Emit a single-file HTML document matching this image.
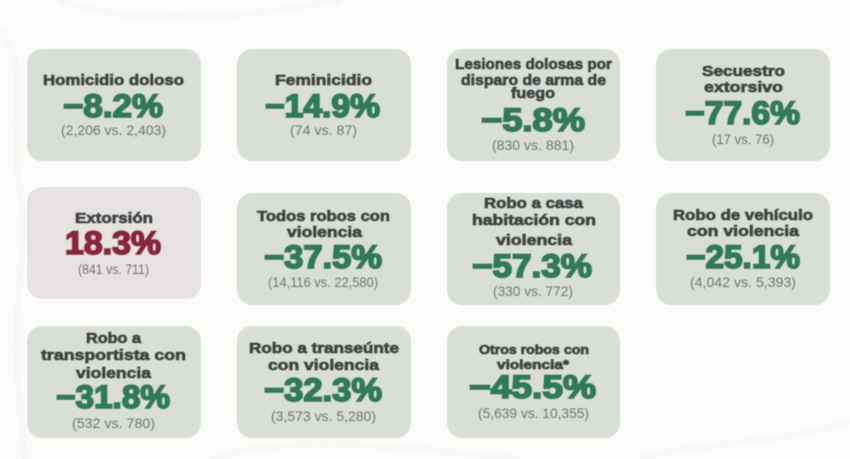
<!DOCTYPE html>
<html lang="es">
<head>
<meta charset="utf-8">
<title>Variación de delitos</title>
<style>
html,body{margin:0;padding:0;width:850px;height:459px;overflow:hidden;background:#fbfcfa;}
svg{display:block;}
text{font-family:"Liberation Sans",sans-serif;}
.t{font-weight:700;font-size:15px;fill:#3f4543;stroke:#3f4543;stroke-width:.95px;}
.v{font-weight:700;font-size:32px;fill:#2f7a5c;stroke:#2f7a5c;stroke-width:2px;}
.r{fill:#8a2140;stroke:#8a2140;}
.s{font-size:13.5px;fill:#727874;stroke:#727874;stroke-width:.15px;}
.c{fill:#d9dfd8;}
.c2{fill:#e6e2e1;}
</style>
</head>
<body>
<svg width="850" height="459" viewBox="0 0 850 459">
<defs><filter id="b" x="-5%" y="-5%" width="110%" height="110%"><feGaussianBlur stdDeviation="0.5"/></filter></defs>
<g fill="none" stroke="#f7f8f5" stroke-width="7">
<path d="M0 30C30 60 10 120 20 190S5 300 25 459"/>
<path d="M210 459C300 430 420 450 520 459"/>
<path d="M640 459C700 440 790 445 850 420"/>
<path d="M60 0C140 30 260 15 340 0"/>
</g>
<g filter="url(#b)">
<g>
<rect class="c" x="27" y="49" width="174" height="112" rx="15"/>
<text class="t" x="43" y="85" textLength="141" lengthAdjust="spacingAndGlyphs">Homicidio doloso</text>
<text class="v" x="63" y="117" textLength="100" lengthAdjust="spacingAndGlyphs">−8.2%</text>
<text class="s" x="61" y="135" textLength="105" lengthAdjust="spacingAndGlyphs">(2,206 vs. 2,403)</text>
</g>
<g>
<rect class="c" x="237" y="49" width="174" height="112" rx="15"/>
<text class="t" x="275" y="85" textLength="97" lengthAdjust="spacingAndGlyphs">Feminicidio</text>
<text class="v" x="265" y="117" textLength="115" lengthAdjust="spacingAndGlyphs">−14.9%</text>
<text class="s" x="290" y="135" textLength="67" lengthAdjust="spacingAndGlyphs">(74 vs. 87)</text>
</g>
<g>
<rect class="c" x="447" y="49" width="173" height="112" rx="15"/>
<text class="t" x="455" y="69" textLength="157" lengthAdjust="spacingAndGlyphs">Lesiones dolosas por</text>
<text class="t" x="461" y="85" textLength="145" lengthAdjust="spacingAndGlyphs">disparo de arma de</text>
<text class="t" x="511" y="98" textLength="44" lengthAdjust="spacingAndGlyphs">fuego</text>
<text class="v" x="481" y="131" textLength="104" lengthAdjust="spacingAndGlyphs">−5.8%</text>
<text class="s" x="492" y="150" textLength="82" lengthAdjust="spacingAndGlyphs">(830 vs. 881)</text>
</g>
<g>
<rect class="c" x="656" y="49" width="174" height="112" rx="15"/>
<text class="t" x="702" y="76" textLength="83" lengthAdjust="spacingAndGlyphs">Secuestro</text>
<text class="t" x="704" y="92" textLength="79" lengthAdjust="spacingAndGlyphs">extorsivo</text>
<text class="v" x="685" y="124" textLength="115" lengthAdjust="spacingAndGlyphs">−77.6%</text>
<text class="s" x="712" y="144" textLength="62" lengthAdjust="spacingAndGlyphs">(17 vs. 76)</text>
</g>
<g>
<rect class="c2" x="27" y="187" width="174" height="112" rx="15"/>
<text class="t" x="75" y="223" textLength="78" lengthAdjust="spacingAndGlyphs">Extorsión</text>
<text class="v r" x="65" y="254" textLength="96" lengthAdjust="spacingAndGlyphs">18.3%</text>
<text class="s" x="78" y="274" textLength="71" lengthAdjust="spacingAndGlyphs">(841 vs. 711)</text>
</g>
<g>
<rect class="c" x="237" y="193" width="174" height="112" rx="15"/>
<text class="t" x="257" y="221" textLength="133" lengthAdjust="spacingAndGlyphs">Todos robos con</text>
<text class="t" x="287" y="237" textLength="75" lengthAdjust="spacingAndGlyphs">violencia</text>
<text class="v" x="264" y="268" textLength="118" lengthAdjust="spacingAndGlyphs">−37.5%</text>
<text class="s" x="268" y="287" textLength="110" lengthAdjust="spacingAndGlyphs">(14,116 vs. 22,580)</text>
</g>
<g>
<rect class="c" x="447" y="193" width="173" height="112" rx="15"/>
<text class="t" x="484" y="208" textLength="99" lengthAdjust="spacingAndGlyphs">Robo a casa</text>
<text class="t" x="472" y="225" textLength="124" lengthAdjust="spacingAndGlyphs">habitación con</text>
<text class="t" x="496" y="245" textLength="76" lengthAdjust="spacingAndGlyphs">violencia</text>
<text class="v" x="472" y="277" textLength="120" lengthAdjust="spacingAndGlyphs">−57.3%</text>
<text class="s" x="493" y="296" textLength="80" lengthAdjust="spacingAndGlyphs">(330 vs. 772)</text>
</g>
<g>
<rect class="c" x="656" y="193" width="174" height="112" rx="15"/>
<text class="t" x="673" y="220" textLength="140" lengthAdjust="spacingAndGlyphs">Robo de vehículo</text>
<text class="t" x="687" y="236" textLength="112" lengthAdjust="spacingAndGlyphs">con violencia</text>
<text class="v" x="686" y="268" textLength="114" lengthAdjust="spacingAndGlyphs">−25.1%</text>
<text class="s" x="690" y="287" textLength="106" lengthAdjust="spacingAndGlyphs">(4,042 vs. 5,393)</text>
</g>
<g>
<rect class="c" x="27" y="326" width="174" height="112" rx="15"/>
<text class="t" x="86" y="343" textLength="55" lengthAdjust="spacingAndGlyphs">Robo a</text>
<text class="t" x="41" y="360" textLength="145" lengthAdjust="spacingAndGlyphs">transportista con</text>
<text class="t" x="76" y="378" textLength="75" lengthAdjust="spacingAndGlyphs">violencia</text>
<text class="v" x="56" y="408" textLength="114" lengthAdjust="spacingAndGlyphs">−31.8%</text>
<text class="s" x="72" y="428" textLength="83" lengthAdjust="spacingAndGlyphs">(532 vs. 780)</text>
</g>
<g>
<rect class="c" x="237" y="326" width="174" height="112" rx="15"/>
<text class="t" x="249" y="353" textLength="150" lengthAdjust="spacingAndGlyphs">Robo a transeúnte</text>
<text class="t" x="268" y="370" textLength="111" lengthAdjust="spacingAndGlyphs">con violencia</text>
<text class="v" x="264" y="401" textLength="118" lengthAdjust="spacingAndGlyphs">−32.3%</text>
<text class="s" x="271" y="421" textLength="105" lengthAdjust="spacingAndGlyphs">(3,573 vs. 5,280)</text>
</g>
<g>
<rect class="c" x="447" y="326" width="173" height="112" rx="15"/>
<text class="t" x="479" y="354" textLength="110" lengthAdjust="spacingAndGlyphs" style="font-size:12.5px">Otros robos con</text>
<text class="t" x="497" y="369" textLength="72" lengthAdjust="spacingAndGlyphs" style="font-size:12.5px">violencia*</text>
<text class="v" x="469" y="398" textLength="127" lengthAdjust="spacingAndGlyphs">−45.5%</text>
<text class="s" x="478" y="418" textLength="111" lengthAdjust="spacingAndGlyphs">(5,639 vs. 10,355)</text>
</g>
</g>
</svg>
</body>
</html>
